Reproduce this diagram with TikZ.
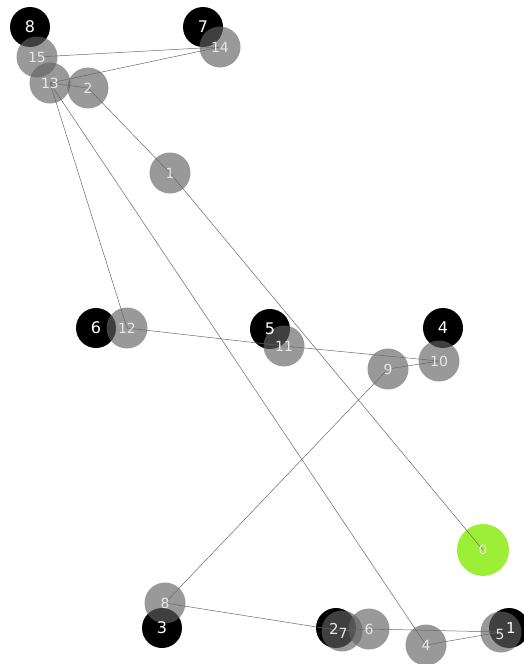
\documentclass[tikz,border=0pt]{standalone}
\usepackage{fontspec}
\setsansfont{DejaVu Sans}
\usetikzlibrary{positioning}
\definecolor{stopgray}{RGB}{98,98,98}
\definecolor{stoplabel}{RGB}{232,232,232}
\definecolor{depotgreen}{RGB}{140,235,20}
\definecolor{routeline}{RGB}{105,105,105}

\begin{document}
\begin{tikzpicture}[
    x=1pt, y=-1pt,
    every node/.style={font=\sffamily\fontsize{14}{14}\selectfont},
    stop/.style={circle, fill=stopgray, fill opacity=0.65, minimum size=41pt, inner sep=0pt},
    request/.style={circle, fill=black, minimum size=40pt, inner sep=0pt},
    depot/.style={circle, fill=depotgreen, fill opacity=0.85, minimum size=52pt, inner sep=0pt},
    stoptext/.style={text=stoplabel, inner sep=0pt},
    requesttext/.style={text=white, inner sep=0pt, font=\sffamily\fontsize{16}{16}\selectfont},
    route/.style={draw=routeline, line width=0.5pt},
]
\useasboundingbox (0,0) rectangle (523,664);

% Black requests
\node[request] (b8) at (30,27) {};
\node[request] (b7) at (203,27) {};
\node[request] (b6) at (96,328) {};
\node[request] (b5) at (270,329) {};
\node[request] (b4) at (443,328) {};
\node[request] (b3) at (162,628) {};
\node[request] (b2) at (336,628) {};
\node[request] (b1) at (509,628) {};

% Depot
\node[depot] (n0) at (483,550) {};

% Gray stops
\node[stop] (g15) at (37,57) {};
\node[stop] (g14) at (220,47) {};
\node[stop] (g13) at (50,83) {};
\node[stop] (g2) at (88,88) {};
\node[stop] (g1) at (170,173) {};
\node[stop] (g12) at (127,328) {};
\node[stop] (g11) at (284,346) {};
\node[stop] (g10) at (439,361) {};
\node[stop] (g9) at (388,369) {};
\node[stop] (g8) at (165,603) {};
\node[stop] (g7) at (342,631) {};
\node[stop] (g6) at (369,629) {};
\node[stop] (g4) at (426,645) {};
\node[stop] (g5) at (501,632) {};

% Route
\draw[route] (n0.center) -- (g1.center) -- (g2.center) -- (g13.center);
\draw[route] (g15.center) -- (g14.center) -- (g13.center) -- (g12.center) -- (g11.center)
    -- (g10.center) -- (g9.center) -- (g8.center) -- (g7.center) -- (g6.center)
    -- (g5.center) -- (g4.center) -- (g13.center);

% Labels
\node[requesttext] (t8) at (b8) {8};
\node[requesttext] (t7) at (b7) {7};
\node[requesttext] (t6) at (b6) {6};
\node[requesttext] (t5) at (b5) {5};
\node[requesttext] (t4) at (b4) {4};
\node[requesttext] (t3) at (b3) {3};
\node[stoptext, font=\sffamily\fontsize{15}{15}\selectfont] (t2) at (334,629) {2};
\node[requesttext, font=\sffamily\fontsize{15}{15}\selectfont] (t1) at (511,628) {1};
\node[stoptext, font=\sffamily\fontsize{13}{13}\selectfont] (s0) at (n0) {0};
\node[stoptext] (s15) at (g15) {15};
\node[stoptext] (s14) at (g14) {14};
\node[stoptext] (s13) at (g13) {13};
\node[stoptext] (s2) at (g2) {2};
\node[stoptext] (s1) at (g1) {1};
\node[stoptext] (s12) at (g12) {12};
\node[stoptext] (s11) at (g11) {11};
\node[stoptext] (s10) at (g10) {10};
\node[stoptext] (s9) at (g9) {9};
\node[stoptext] (s8) at (g8) {8};
\node[stoptext] (s7) at (343,633) {7};
\node[stoptext] (s6) at (g6) {6};
\node[stoptext] (s4) at (g4) {4};
\node[stoptext] (s5) at (500,634) {5};

\end{tikzpicture}
\end{document}
